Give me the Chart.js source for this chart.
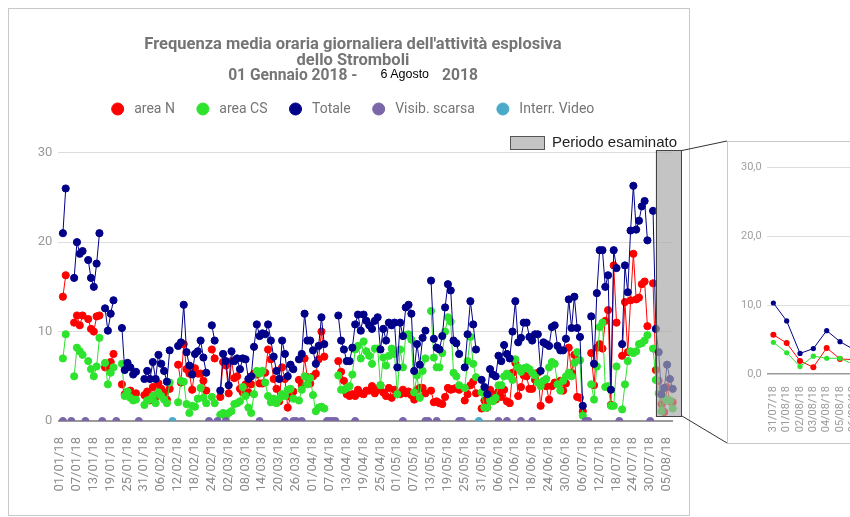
<!DOCTYPE html>
<html>
<head>
<meta charset="utf-8">
<script src="https://cdn.jsdelivr.net/npm/chart.js@4.4.1/dist/chart.umd.min.js"></script>
<style>
html,body{margin:0;padding:0;width:850px;height:517px;overflow:hidden;background:#fff;}
#wrap{position:relative;width:850px;height:517px;overflow:hidden;}
.abs{position:absolute;}
#frame{left:8px;top:8px;width:682px;height:508px;border:1px solid #c8c8c8;box-sizing:border-box;}
#main{left:8px;top:8px;}
#title{left:0;top:36px;width:706px;text-align:center;font-family:Roboto,sans-serif;font-weight:bold;font-size:16.5px;line-height:15.5px;color:#757575;white-space:nowrap;}
#title .l3{font-size:15.6px;}
#title .d{font-family:"Liberation Sans",Arial,sans-serif;font-weight:normal;font-size:12.5px;color:#000;margin:0 13px 0 23px;position:relative;top:-2px;}
#iframe{left:727px;top:141px;width:200px;height:303px;border:1px solid #c8c8c8;box-sizing:border-box;background:#fff;}
#inset{left:728px;top:142px;}
</style>
</head>
<body>
<div id="wrap">
  <div id="frame" class="abs"></div>
  <canvas id="main" class="abs" width="682" height="508"></canvas>
  <div id="title" class="abs">Frequenza media oraria giornaliera dell'attività esplosiva<br>dello Stromboli<br><span class="l3">01 Gennaio 2018 -<span class="d">6 Agosto</span>2018</span></div>
  <div id="iframe" class="abs"></div>
  <canvas id="inset" class="abs" width="190" height="300"></canvas>
  <svg class="abs" style="left:0;top:0" width="850" height="517">
    <line x1="682" y1="150.5" x2="727" y2="141" stroke="#333" stroke-width="1"/>
    <line x1="682" y1="416" x2="727" y2="443" stroke="#333" stroke-width="1"/>
  </svg>
</div>
<script>
// ---- DATA (day index 0 = 01/01/18 ... 217 = 06/08/18) ----
const areaN = [
13.9,16.3,null,null,11,11.8,10.7,11.8,null,11.4,
10.3,10,11.7,11.8,null,6.0,6.0,6.6,7.5,null,
null,4.1,3.0,3.2,3.4,2.9,3.1,null,null,2.9,
3.3,2.3,3.8,2.7,4.2,3.6,3.2,2.4,3.6,null,
null,6.3,4.3,8.6,5.8,5.3,3.5,5.9,5.3,5.3,
4.5,3.4,null,8.0,7.0,null,2.7,6.6,6.2,3.1,
6.7,4.8,5.0,3.6,3.2,4.1,3.2,4.1,5.3,5.2,
4.2,4.2,5.4,8.0,6.9,4.7,3.6,2.2,6.0,4.7,
1.5,2.7,3.3,null,4.6,4.0,7.0,4.9,4.2,5.0,
5.3,6.9,10.0,7.2,null,null,null,null,6.7,5.5,
4.5,3.0,2.8,3.0,2.8,3.5,3.1,3.0,3.4,3.4,
3.9,3.1,3.5,4.0,3.2,2.8,3.7,2.6,3.5,3.0,
3.0,3.5,3.1,3.3,2.9,2.4,3.5,3.7,3.7,3.1,
null,3.4,2.1,2.2,2.0,1.9,2.7,3.7,3.5,3.6,
3.7,3.5,null,2.3,3.0,4.0,4.4,3.1,null,1.4,
2.3,1.5,3.5,3.0,2.4,3.3,2.7,3.5,2.2,2.0,
5.4,6.5,2.8,3.8,5.1,5.0,3.6,3.6,4.6,5.4,
1.7,4.3,3.9,2.4,3.9,4.3,4.3,4.5,3.4,4.2,
8.2,5.4,7.4,2.7,2.6,1.1,null,null,7.6,4.0,
8.2,8.6,8.1,11.2,12.4,1.8,17.4,11.0,null,7.3,
13.3,7.7,13.5,18.7,13.6,13.8,15.3,15.6,10.6,null,
15.4,5.7,4.5,1.9,1.0,3.8,2.2,2.1];

const areaCS = [
7,9.7,null,null,5,8.2,7.8,7.4,null,6.7,
5.8,5.0,6.1,9.3,null,6.5,4.1,5.4,6.0,null,
null,6.4,2.8,3.3,2.6,2.3,2.4,null,null,1.8,
2.3,2.4,2.8,2.0,3.2,2.8,2.4,2.0,4.3,null,
null,2.1,4.5,4.4,1.9,0.9,1.7,1.6,2.5,3.7,
2.6,2.0,null,2.7,2.0,null,0.7,0.9,0.5,0.9,
1.1,1.9,2.0,2.2,3.8,2.8,1.5,0.9,3.0,5.6,
5.3,5.6,4.3,2.8,2.1,2.5,2.0,2.5,3.0,2.8,
3.5,3.6,2.5,null,2.3,3.5,5.0,4.1,4.8,2.9,
1.1,1.5,1.6,1.4,null,null,null,null,5.1,3.5,
3.5,3.7,3.9,5.2,8.0,8.4,7.0,8.9,7.8,7.3,
6.4,8.1,8.1,4.0,7.1,6.2,7.3,8.1,7.5,3.0,
8.0,6.0,9.6,9.7,9.1,3.2,5.1,2.6,5.6,7.0,
null,12.3,7.1,6.0,6.0,7.6,10.0,11.6,11.1,5.4,
5.0,4.0,null,3.7,6.7,9.4,6.4,4.9,null,3.2,
1.5,1.5,2.3,2.2,2.6,4.0,4.0,5.0,5.3,5.0,
4.6,6.9,6.0,5.5,5.9,6.0,5.8,5.4,5.1,4.3,
3.9,4.5,4.7,6.0,6.6,6.4,4.1,3.4,4.5,5.0,
5.4,5.0,6.5,7.7,6.8,0.6,null,null,4.1,2.4,
6.1,10.5,11.0,3.8,3.9,1.7,1.7,6.1,null,1.3,
4.1,6.7,7.8,7.6,7.8,8.6,8.7,9.0,9.6,null,
8.1,4.6,3.1,1.1,2.6,2.3,2.3,1.4];

const totale = [
21,26,null,null,16,20,18.7,19,null,18,
16,15,17.6,21,null,12.6,10.1,12,13.5,null,
null,10.4,5.7,6.5,6.0,5.2,5.5,null,null,4.7,
5.6,4.7,6.6,4.7,7.4,6.4,5.6,4.4,7.9,null,
null,8.4,8.8,13,7.7,6.2,5.2,7.5,7.8,9,
7.1,5.4,null,10.7,9,null,3.4,7.5,6.7,4.0,
7.8,6.7,7.0,5.8,7.0,6.9,4.7,5.0,8.3,10.8,
9.5,9.8,9.7,10.8,9.0,7.2,5.6,4.7,9.0,7.5,
5.0,6.3,5.8,null,6.9,7.5,12.0,9.0,9.0,7.9,
6.4,8.4,11.6,8.6,null,null,null,null,11.8,9.0,
8.0,6.7,6.7,8.2,10.8,11.9,10.1,11.9,11.2,10.7,
10.3,11.2,11.6,8.0,10.3,9.0,11.0,10.7,11.0,6.0,
11.0,9.5,12.7,13.0,12.0,5.6,8.6,6.3,9.3,10.1,
null,15.7,9.2,8.2,8.0,9.5,12.7,15.3,14.6,9.0,
8.7,7.5,null,6.0,9.7,13.4,10.8,8.0,null,4.6,
3.8,3.0,5.8,5.2,5.0,7.3,6.7,8.5,7.5,7.0,
10.0,13.4,8.8,9.3,11.0,11.0,9.4,9.0,9.7,9.7,
5.6,8.8,8.6,8.4,10.5,10.7,8.4,7.9,7.9,9.2,
13.6,10.4,13.9,10.4,9.4,1.7,null,null,11.7,6.4,
14.3,19.1,19.1,15.0,16.3,3.5,19.1,17.1,null,8.6,
17.4,14.4,21.3,26.3,21.4,22.4,24.0,24.6,20.2,null,
23.5,10.3,7.7,3.0,3.7,6.3,4.7,3.6];

const visibDays = [0,3,8,14,19,27,52,55,58,70,79,82,83,85,94,95,96,97,104,121,129,130,133,141,142,155,158,163,167,186,187,198,209];
const videoDays = [39,148];

const tickLabels = ['01/01/18','07/01/18','13/01/18','19/01/18','25/01/18','31/01/18','06/02/18','12/02/18','18/02/18','24/02/18',
'02/03/18','08/03/18','14/03/18','20/03/18','26/03/18','01/04/18','07/04/18','13/04/18','19/04/18','25/04/18',
'01/05/18','07/05/18','13/05/18','19/05/18','25/05/18','31/05/18','06/06/18','12/06/18','18/06/18','24/06/18',
'30/06/18','06/07/18','12/07/18','18/07/18','24/07/18','30/07/18','05/08/18'];
const tickStep = 6;

const periodStart = 211; // 31/07/18
const insetLabels = ['31/07/18','01/08/18','02/08/18','03/08/18','04/08/18','05/08/18','06/08/18'];

// ---- STYLE ----
const RED = '#ff0000', GREEN = '#2de32d', NAVY = '#000088', PURPLE = '#7a66a8', TEAL = '#4aaac8';
Chart.defaults.font.family = 'Roboto, sans-serif';

const toXY = arr => arr.map((v, i) => ({x: i, y: v}));
const zeroAt = days => days.map(d => ({x: d, y: 0}));
const clipArea = {left: 10, top: 10, right: 10, bottom: 0};

function lineSet(label, arr, color, order) {
  return {label, data: toXY(arr), borderColor: color, backgroundColor: color,
    pointBackgroundColor: color, pointBorderColor: color, borderWidth: 1,
    pointRadius: 3.6, pointBorderWidth: 1, spanGaps: false, order, clip: clipArea};
}
function dotSet(label, days, color) {
  return {label, data: zeroAt(days), borderColor: color, backgroundColor: color,
    pointBackgroundColor: color, pointBorderColor: color, borderWidth: 1,
    pointRadius: 3.6, pointBorderWidth: 1, showLine: false, order: 0, clip: clipArea};
}

const periodPlugin = {
  id: 'period',
  afterDatasetsDraw(chart) {
    const {ctx, chartArea, scales: {x, y}} = chart;
    const left = x.getPixelForValue(periodStart - 0.05);
    const right = chartArea.right + 9;
    const top = chartArea.top - 2.5;
    const bottom = y.getPixelForValue(0) - 4;
    ctx.save();
    ctx.fillStyle = 'rgba(168,168,168,0.68)';
    ctx.fillRect(left, top, right - left, bottom - top);
    ctx.strokeStyle = '#444';
    ctx.lineWidth = 1;
    ctx.strokeRect(Math.round(left) + 0.5, Math.round(top) + 0.5, Math.round(right - left) - 1, Math.round(bottom - top) - 1);
    // "Periodo esaminato" key
    ctx.font = '15px "Liberation Sans", Arial, sans-serif';
    ctx.textBaseline = 'middle';
    ctx.textAlign = 'right';
    const ty = chartArea.top - 9.5;
    const tx = chartArea.right + 4;
    ctx.fillStyle = '#222';
    ctx.fillText('Periodo esaminato', tx, ty);
    const tw = ctx.measureText('Periodo esaminato').width;
    const bx = Math.round(tx - tw - 7 - 35);
    const by = Math.round(ty - 7);
    ctx.fillStyle = '#c4c4c4';
    ctx.fillRect(bx, by, 35, 14);
    ctx.strokeStyle = '#555';
    ctx.strokeRect(bx + 0.5, by + 0.5, 34, 13);
    ctx.restore();
  }
};

new Chart(document.getElementById('main'), {
  type: 'line',
  data: {
    datasets: [
      lineSet('area N', areaN, RED, 3),
      lineSet('area CS', areaCS, GREEN, 2),
      lineSet('Totale', totale, NAVY, 1),
      dotSet('Visib. scarsa', visibDays, PURPLE),
      dotSet('Interr. Video', videoDays, TEAL)
    ]
  },
  options: {
    responsive: false,
    animation: false,
    events: [],
    layout: {padding: {top: 72, right: 17, bottom: 16.4, left: 25}},
    elements: {line: {tension: 0}},
    plugins: {
      title: {display: true, text: ' ', weight: 100, font: {size: 10}, padding: {top: 0, bottom: 14.7}},
      legend: {
        labels: {
          usePointStyle: true, pointStyle: 'circle', boxHeight: 8.5, pointStyleWidth: 12,
          padding: 22, color: '#757575', font: {size: 14},
          sort: (a, b) => a.datasetIndex - b.datasetIndex,
          generateLabels: (chart) => Chart.defaults.plugins.legend.labels.generateLabels(chart)
            .map(l => Object.assign({}, l, {text: ' ' + l.text}))
        }
      },
      tooltip: {enabled: false}
    },
    scales: {
      x: {
        type: 'linear', min: -1.64, max: 217.1, bounds: 'data',
        grid: {display: false}, border: {display: false},
        afterBuildTicks: s => { s.ticks = tickLabels.map((t, i) => ({value: i * tickStep})); },
        afterFit: s => { s.paddingRight = 0; s.paddingLeft = 0; },
        ticks: {autoSkip: false, minRotation: 90, maxRotation: 90, padding: 8, labelOffset: -3,
          color: '#8a8a8a', font: {size: 13}, callback: (v, i) => tickLabels[i]}
      },
      y: {
        min: 0, max: 30,
        ticks: {stepSize: 10, padding: 6, color: '#999', font: {size: 13}},
        grid: {color: c => c.tick.value === 0 ? '#9a9a9a' : '#dddddd', lineWidth: c => c.tick.value === 0 ? 2 : 1, drawTicks: false},
        border: {display: false},
        afterFit: s => { s.width = 25.3; }
      }
    }
  },
  plugins: [periodPlugin]
});

function insetSet(label, arr, color, order, r) {
  return {label, data: arr.slice(periodStart), borderColor: color, backgroundColor: color,
    pointBackgroundColor: color, pointBorderColor: color, borderWidth: 1, pointRadius: r,
    pointBorderWidth: 0, order};
}

new Chart(document.getElementById('inset'), {
  type: 'line',
  data: {
    labels: insetLabels,
    datasets: [
      insetSet('area N', areaN, RED, 3, 3),
      insetSet('area CS', areaCS, GREEN, 2, 2.6),
      insetSet('Totale', totale, NAVY, 1, 2.6)
    ]
  },
  options: {
    responsive: false,
    animation: false,
    events: [],
    layout: {padding: {top: 25, right: 58, bottom: 5.7, left: 0}},
    elements: {line: {tension: 0}},
    plugins: {legend: {display: false}, tooltip: {enabled: false}, title: {display: false}},
    scales: {
      x: {offset: true, grid: {display: false}, border: {display: false},
        afterFit: s => { s.paddingLeft = 0; s.paddingRight = 0; },
        ticks: {autoSkip: false, minRotation: 90, maxRotation: 90, padding: 4, color: '#9a9a9a', font: {size: 11}}},
      y: {min: 0, max: 30,
        ticks: {stepSize: 10, padding: 5, color: '#a0a0a0', font: {size: 11}, callback: v => v.toFixed(1).replace('.', ',')},
        grid: {color: c => c.tick.value === 0 ? '#9a9a9a' : '#dddddd', lineWidth: c => c.tick.value === 0 ? 1.5 : 1, drawTicks: false},
        border: {display: false},
        afterFit: s => { s.width = 38.7; }
      }
    }
  }
});
</script>
</body>
</html>
